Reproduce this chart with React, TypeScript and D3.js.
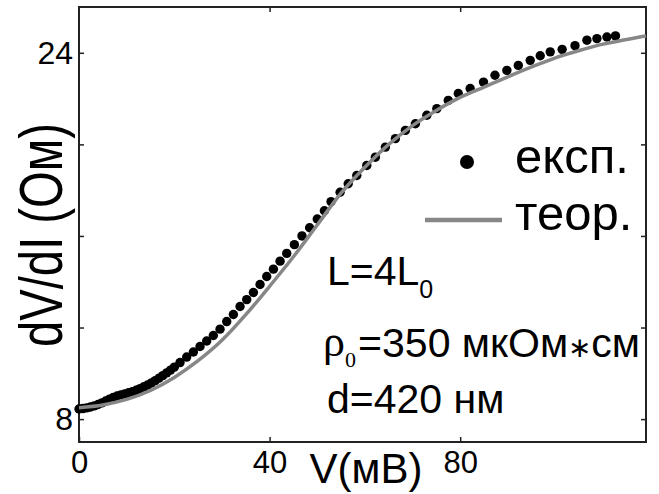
import { useEffect, useRef } from "react";
import * as d3 from "d3";

// experimental points: V (мВ) and dV/dI (Ом)
const expV = [0, 0.8, 1.6, 2.4, 3.2, 4.0, 4.8, 5.6, 6.4, 7.2, 8.0, 8.8, 9.6, 10.4, 11.2, 12.0, 12.8, 13.6, 14.4, 15.2, 16.0, 16.8, 17.6, 18.4, 19.2, 20.0,
  21.2, 22.6, 24.0, 25.4, 26.8, 28.2, 29.6, 31.0, 32.4, 33.8, 35.2, 36.6, 38.0, 39.4, 40.8, 42.2,
  43.6, 45.2, 46.8, 48.4, 50.0, 51.5,
  52.9, 54.8, 56.5, 58.3, 60.4, 62.2, 64.3, 66.4, 68.5, 70.6, 73.0, 75.1, 77.5, 79.6, 82.1, 84.9, 87.3, 89.8, 92.2, 94.7, 96.8, 98.9, 101.4, 104.1, 106.6, 108.7, 110.8, 112.6];
const expR = [8.44, 8.46, 8.49, 8.53, 8.58, 8.64, 8.71, 8.79, 8.87, 8.95, 9.01, 9.06, 9.10, 9.15, 9.20, 9.26, 9.33, 9.41, 9.49, 9.58, 9.68, 9.79, 9.90, 10.02, 10.14, 10.27,
  10.47, 10.71, 10.93, 11.17, 11.41, 11.65, 11.93, 12.26, 12.57, 12.92, 13.22, 13.53, 13.88, 14.23, 14.55, 14.90,
  15.24, 15.62, 16.00, 16.36, 16.74, 17.10,
  17.50, 17.91, 18.28, 18.64, 19.08, 19.44, 19.88, 20.25, 20.61, 20.90, 21.27, 21.56, 21.92, 22.22, 22.44, 22.72, 23.02, 23.23, 23.45, 23.67, 23.87, 24.04, 24.15, 24.31, 24.55, 24.62, 24.69, 24.74];

// theory curve
const theoV = [0, 5, 10, 15, 20, 25, 30, 35, 40, 45, 50, 55, 60, 65, 70, 75, 80, 85, 90, 95, 100, 105, 110, 115, 119];
const theoR = [8.50, 8.62, 8.86, 9.25, 9.82, 10.55, 11.44, 12.56, 13.80, 15.09, 16.48, 17.87, 19.00, 20.00, 20.82, 21.48, 22.05, 22.50, 22.95, 23.38, 23.78, 24.10, 24.38, 24.58, 24.74];

const xTicks = [0, 40, 80];
const yTicks = [8, 12, 16, 20, 24];
const yLabeled = [8, 24];

const FONT = "Liberation Sans, Arial, sans-serif";
const SERIF = "Liberation Serif, Times New Roman, serif";

export default function App() {
  const ref = useRef<SVGSVGElement>(null);

  useEffect(() => {
    const svg = d3.select(ref.current);
    svg.selectAll("*").remove();

    const left = 79, right = 646, top = 7, bottom = 442;

    const x = d3.scaleLinear().domain([0, 119]).range([left, right]);
    const y = d3.scaleLinear().domain([7, 26]).range([bottom, top]);

    const styleAxis = (g: any, size: number) => {
      g.select(".domain").remove();
      g.selectAll("line").attr("stroke", "#222").attr("stroke-width", 1.5);
      g.selectAll("text").attr("font-size", size).attr("font-family", FONT).attr("fill", "#000");
    };

    svg.append("g")
      .attr("transform", `translate(0,${bottom})`)
      .call(d3.axisBottom(x).tickValues(xTicks).tickSizeInner(-5).tickSizeOuter(0).tickPadding(9))
      .call(g => styleAxis(g, 31));

    svg.append("g")
      .attr("transform", `translate(0,${top})`)
      .call(d3.axisTop(x).tickValues([40, 80]).tickSizeInner(-5).tickSizeOuter(0).tickFormat(() => ""))
      .call(g => styleAxis(g, 10));

    svg.append("g")
      .attr("transform", `translate(${left},0)`)
      .call(d3.axisLeft(y).tickValues(yTicks).tickSizeInner(-5).tickSizeOuter(0).tickPadding(6)
        .tickFormat(d => (yLabeled.includes(+d) ? String(d) : "")))
      .call(g => styleAxis(g, 32));

    svg.append("g")
      .attr("transform", `translate(${right},0)`)
      .call(d3.axisRight(y).tickValues(yTicks).tickSizeInner(-5).tickSizeOuter(0).tickFormat(() => ""))
      .call(g => styleAxis(g, 10));

    svg.append("rect")
      .attr("x", left).attr("y", top)
      .attr("width", right - left).attr("height", bottom - top)
      .attr("fill", "none").attr("stroke", "#222").attr("stroke-width", 2);

    // experimental dots
    svg.append("g")
      .selectAll("circle")
      .data(expV.map((v, i) => [v, expR[i]]))
      .join("circle")
      .attr("cx", d => x(d[0]))
      .attr("cy", d => y(d[1]))
      .attr("r", 4.7)
      .attr("fill", "#000");

    // theory line
    const line = d3.line<number>()
      .x(v => x(v))
      .y((v, i) => y(theoR[i]))
      .curve(d3.curveMonotoneX);

    svg.append("path")
      .attr("d", line(theoV))
      .attr("fill", "none")
      .attr("stroke", "#878787")
      .attr("stroke-width", 3.5);

    // legend
    svg.append("circle").attr("cx", 467).attr("cy", 162).attr("r", 7).attr("fill", "#000");
    svg.append("line").attr("x1", 425).attr("x2", 502).attr("y1", 220).attr("y2", 220)
      .attr("stroke", "#878787").attr("stroke-width", 4.5);
    svg.append("text").attr("x", 515).attr("y", 173).attr("font-family", FONT).attr("font-size", 49).text("експ.");
    svg.append("text").attr("x", 515).attr("y", 230).attr("font-family", FONT).attr("font-size", 49).text("теор.");

    // axis titles
    svg.append("text")
      .attr("transform", "translate(62,235) rotate(-90)")
      .attr("text-anchor", "middle")
      .attr("font-family", FONT)
      .attr("font-size", 62)
      .attr("textLength", 224)
      .attr("lengthAdjust", "spacingAndGlyphs")
      .text("dV/dI (Ом)");

    svg.append("text")
      .attr("x", 366).attr("y", 483)
      .attr("text-anchor", "middle")
      .attr("font-family", FONT)
      .attr("font-size", 42)
      .text("V(мВ)");

    // parameters
    const t1 = svg.append("text").attr("x", 327).attr("y", 285).attr("font-family", FONT).attr("font-size", 41);
    t1.append("tspan").text("L=4L");
    t1.append("tspan").attr("font-size", 25).attr("dy", 13).text("0");

    const rho = svg.append("text").attr("x", 323).attr("y", 356).attr("font-family", SERIF);
    rho.append("tspan").attr("font-size", 44).text("ρ");
    rho.append("tspan").attr("font-size", 22).attr("dy", 11).text("0");
    const t2 = svg.append("text").attr("x", 358).attr("y", 357).attr("font-family", FONT).attr("font-size", 41)
      .attr("textLength", 282).attr("lengthAdjust", "spacingAndGlyphs");
    t2.append("tspan").text("=350 мкОм");
    t2.append("tspan").attr("font-size", 28).text("∗");
    t2.append("tspan").text("см");

    svg.append("text").attr("x", 327).attr("y", 413).attr("font-family", FONT).attr("font-size", 41).text("d=420 нм");
  }, []);

  return <svg ref={ref} width={659} height={494} style={{ position: "absolute", left: 0, top: 0, background: "#fff" }} />;
}
